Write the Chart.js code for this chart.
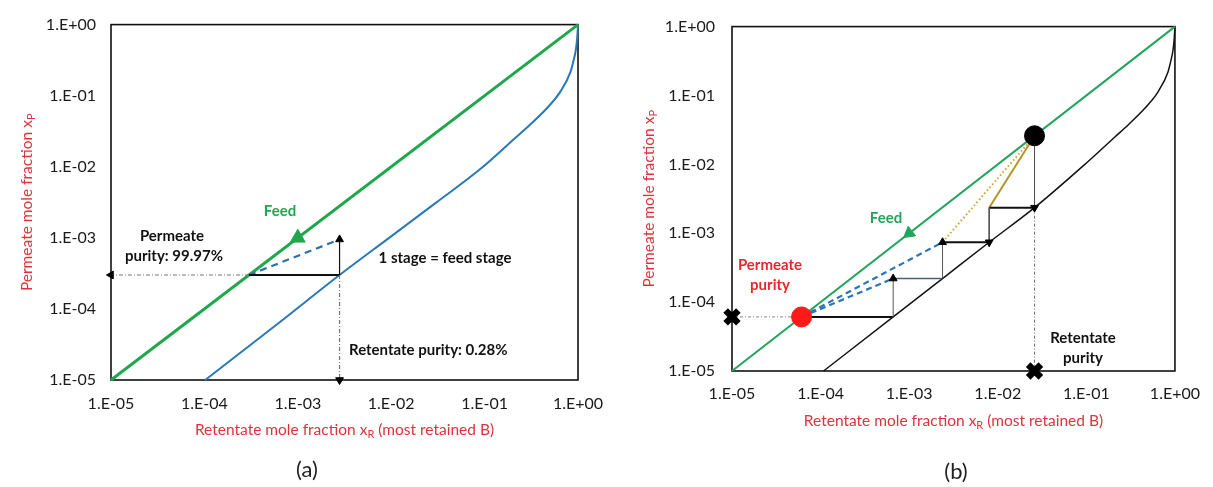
<!DOCTYPE html>
<html>
<head>
<meta charset="utf-8">
<script src="https://cdn.jsdelivr.net/npm/chart.js@4.4.0/dist/chart.umd.min.js"></script>
<style>
  html, body { margin: 0; padding: 0; background: #fff; }
  #wrap { position: relative; width: 1213px; height: 487px; overflow: hidden; background: #fff; }
  #ca { position: absolute; left: 0; top: 0; }
  #cb { position: absolute; left: 640px; top: 0; }
</style>
</head>
<body>
<div id="wrap">
  <canvas id="ca" width="640" height="487" style="width:640px;height:487px"></canvas>
  <canvas id="cb" width="573" height="487" style="width:573px;height:487px"></canvas>
</div>
<script>
// ---- shared axis ticks (log decades) ----
const decadeTicks  = [1e-5, 1e-4, 1e-3, 1e-2, 1e-1, 1];
const decadeLabels = ['1.E-05', '1.E-04', '1.E-03', '1.E-02', '1.E-01', '1.E+00'];
const diagonalX = [1e-5, 1];

// ---- panel (a): single stage ----
const eqA_xR = [1.02e-4, 6.4e-4, 2.8e-3, 9.5e-3, 0.03, 0.092, 0.21, 0.3, 0.5, 0.65, 0.835, 0.9, 0.95, 0.98, 1];
const eqA_xP = [1e-5, 6.5e-5, 3e-4, 1e-3, 3.1e-3, 0.0095, 0.025, 0.038, 0.074, 0.115, 0.22, 0.32, 0.45, 0.65, 1];
const feedA = [1e-3, 1e-3];
const permeatePurityA = 99.97;   // %
const retentatePurityA = 0.28;   // %
const stageTopA = 9.5e-4;        // x_P reached by the dashed operating line

// ---- panel (b): cascade ----
const eqB_xR = [1.08e-4, 6.6e-4, 2.38e-3, 8e-3, 0.026, 0.092, 0.21, 0.3, 0.5, 0.65, 0.835, 0.9, 0.95, 0.98, 1];
const eqB_xP = [1e-5, 6.1e-5, 2.2e-4, 7.4e-4, 2.35e-3, 0.0095, 0.025, 0.038, 0.074, 0.115, 0.22, 0.32, 0.45, 0.65, 1];
const cascadeXR = [6.1e-5, 6.6e-4, 2.38e-3, 8e-3, 0.026];
const cascadeXP = [6.1e-5, 2.2e-4, 7.4e-4, 2.35e-3, 0.026];
const feedB = [1e-3, 1e-3];

const AXIS_MIN = 1e-5, AXIS_MAX = 1;
const FONT = 'Lato, "Open Sans", sans-serif';
const RED = '#dd333c';

Chart.defaults.font.family = FONT;
Chart.defaults.animation = false;

const pts = (xs, ys) => xs.map((x, i) => ({ x, y: ys[i] }));
const P = (x, y) => ({ x, y });

function axisCfg(isX, size, pad) {
  return {
    type: 'logarithmic', min: AXIS_MIN, max: AXIS_MAX,
    grid: { display: false, drawTicks: false },
    border: { display: false },
    afterBuildTicks: s => { s.ticks = decadeTicks.map(v => ({ value: v })); },
    afterFit: s => { if (isX) s.height = size; else s.width = size; },
    ticks: {
      autoSkip: false, maxRotation: 0, padding: pad, color: '#1a1a1a',
      font: { size: 16 },
      callback: (v, i) => decadeLabels[i]
    }
  };
}

function line(data, color, width, extra) {
  return Object.assign({
    type: 'scatter', data, showLine: true, borderColor: color, backgroundColor: color,
    borderWidth: width, pointRadius: 0, clip: false
  }, extra || {});
}
function arrow(from, to, color, width, rotation, extra) {
  return line([from, to], color, width, Object.assign({
    pointStyle: 'triangle', pointRadius: [0, 4.5], rotation: [0, rotation],
    pointBackgroundColor: '#000', pointBorderColor: '#000', pointBorderWidth: 1
  }, extra || {}));
}
function marker(p, style, radius, color, extra) {
  return Object.assign({
    type: 'scatter', data: [p], showLine: false, pointStyle: style, pointRadius: radius,
    backgroundColor: color, borderColor: color, clip: false
  }, extra || {});
}

const framePlugin = {
  id: 'frame',
  beforeDatasetsDraw(chart) {
    const a = chart.chartArea, ctx = chart.ctx;
    ctx.save();
    ctx.strokeStyle = '#111';
    ctx.lineWidth = 1.6;
    ctx.strokeRect(a.left, a.top, a.right - a.left, a.bottom - a.top);
    ctx.restore();
  }
};

function richText(ctx, parts, cx, cy, size, color, angle) {
  ctx.save();
  ctx.translate(cx, cy);
  ctx.rotate(angle || 0);
  ctx.fillStyle = color;
  ctx.textBaseline = 'middle';
  ctx.textAlign = 'left';
  const fonts = parts.map(p => `${p.sub ? Math.round(size * 0.68) : size}px ${FONT}`);
  let total = 0;
  const widths = parts.map((p, i) => { ctx.font = fonts[i]; const w = ctx.measureText(p.t).width; total += w; return w; });
  let x = -total / 2;
  parts.forEach((p, i) => { ctx.font = fonts[i]; ctx.fillText(p.t, x, p.sub ? size * 0.3 : 0); x += widths[i]; });
  ctx.restore();
}
function label(ctx, text, x, y, size, color, bold, align) {
  ctx.save();
  ctx.font = `${bold ? 'bold ' : ''}${size}px ${FONT}`;
  ctx.fillStyle = color;
  ctx.textAlign = align || 'center';
  ctx.textBaseline = 'middle';
  ctx.fillText(text, x, y);
  ctx.restore();
}
function axisTitles(ctx, a, yTitleX, xTitleY) {
  richText(ctx, [{ t: 'Retentate mole fraction x' }, { t: 'R', sub: true }, { t: ' (most retained B)' }],
           (a.left + a.right) / 2, xTitleY, 15.5, RED, 0);
  richText(ctx, [{ t: 'Permeate mole fraction x' }, { t: 'P', sub: true }],
           yTitleX, (a.top + a.bottom) / 2, 15.5, RED, -Math.PI / 2);
}

// ---------------- panel (a) ----------------
const xPa = 1 - permeatePurityA / 100;
const xRa = retentatePurityA / 100;
const GREEN_A = '#1fa74b';

new Chart(document.getElementById('ca'), {
  type: 'scatter',
  data: {
    datasets: [
      marker(P(feedA[0], feedA[1]), 'triangle', 8.5, GREEN_A),
      arrow(P(xRa, xPa), P(xRa, stageTopA), '#111', 1.2, 0),
      arrow(P(xRa, xPa), P(xRa, AXIS_MIN), '#777', 1.2, 180, { borderDash: [4, 2, 1, 2] }),
      arrow(P(xPa, xPa), P(AXIS_MIN, xPa), '#777', 1.2, 270, { borderDash: [4, 2, 1, 2] }),
      line([P(xPa, xPa), P(xRa, xPa)], '#111', 2.2),
      line([P(xPa, xPa), P(xRa, stageTopA)], '#2e6fae', 2.2, { borderDash: [7, 5] }),
      line(pts(diagonalX, diagonalX), GREEN_A, 3),
      line(pts(eqA_xR, eqA_xP), '#2a79b7', 2, { cubicInterpolationMode: 'monotone' })
    ]
  },
  options: {
    responsive: false, animation: false, events: [],
    layout: { padding: { left: 0, top: 17, right: 62, bottom: 0 } },
    plugins: { legend: { display: false }, tooltip: { enabled: false } },
    scales: { x: axisCfg(true, 107, 14), y: axisCfg(false, 111, 15) }
  },
  plugins: [framePlugin, {
    id: 'textA',
    afterDraw(chart) {
      const ctx = chart.ctx, a = chart.chartArea;
      axisTitles(ctx, a, 27, 430);
      label(ctx, 'Feed', 280, 211, 15, GREEN_A, true);
      label(ctx, 'Permeate', 172, 236, 15, '#111', true);
      label(ctx, 'purity: 99.97%', 174, 256, 15, '#111', true);
      label(ctx, '1 stage = feed stage', 445, 258, 15, '#111', true);
      label(ctx, 'Retentate purity: 0.28%', 349, 350, 15, '#111', true, 'left');
      label(ctx, '(a)', 307, 470, 22, '#222', false);
    }
  }]
});

// ---------------- panel (b) ----------------
const GREEN_B = '#22a55c';
const c = cascadeXR, p = cascadeXP;
const GOLD = '#b8922c';

new Chart(document.getElementById('cb'), {
  type: 'scatter',
  data: {
    datasets: [
      marker(P(p[0], p[0]), 'circle', 10, '#ff1a1a'),
      marker(P(c[4], p[4]), 'circle', 10, '#000'),
      marker(P(AXIS_MIN, p[0]), 'crossRot', 9, '#000', { borderWidth: 6.5 }),
      marker(P(c[4], AXIS_MIN), 'crossRot', 9, '#000', { borderWidth: 6.5 }),
      marker(P(feedB[0], feedB[1]), 'triangle', 7, GREEN_B, { rotation: 232 }),
      // stage steps
      arrow(P(c[1], p[0]), P(c[1], p[1]), '#555', 1, 0),
      arrow(P(c[2], p[1]), P(c[2], p[2]), '#555', 1, 0),
      arrow(P(c[3], p[3]), P(c[3], p[2]), '#555', 1, 180),
      arrow(P(c[4], p[4]), P(c[4], p[3]), '#555', 1, 180),
      line([P(p[0], p[0]), P(c[1], p[0])], '#111', 2),
      line([P(c[1], p[1]), P(c[2], p[1])], '#44627e', 1.6),
      line([P(c[2], p[2]), P(c[3], p[2])], '#111', 2),
      line([P(c[3], p[3]), P(c[4], p[3])], '#111', 2),
      // purity projections
      line([P(c[4], p[3]), P(c[4], AXIS_MIN)], '#777', 1, { borderDash: [3, 2, 1, 2] }),
      line([P(AXIS_MIN, p[0]), P(p[0], p[0])], '#888', 1, { borderDash: [3, 2, 1, 2] }),
      // operating lines
      line([P(c[3], p[3]), P(c[4], p[4])], GOLD, 2),
      line([P(c[2], p[2]), P(c[4], p[4])], '#c9a53a', 2, { borderDash: [1.5, 2.5] }),
      line([P(p[0], p[0]), P(c[1], p[1])], '#2e75b6', 2.2, { borderDash: [6, 4] }),
      line([P(p[0], p[0]), P(c[2], p[2])], '#2e75b6', 2.2, { borderDash: [6, 4] }),
      line(pts(diagonalX, diagonalX), GREEN_B, 2),
      line(pts(eqB_xR, eqB_xP), '#111', 1.5, { cubicInterpolationMode: 'monotone' })
    ]
  },
  options: {
    responsive: false, animation: false, events: [],
    layout: { padding: { left: 0, top: 21, right: 33, bottom: 0 } },
    plugins: { legend: { display: false }, tooltip: { enabled: false } },
    scales: { x: axisCfg(true, 116, 13), y: axisCfg(false, 92, 17) }
  },
  plugins: [framePlugin, {
    id: 'textB',
    afterDraw(chart) {
      const ctx = chart.ctx, a = chart.chartArea;
      axisTitles(ctx, a, 9, 421);
      label(ctx, 'Feed', 246, 218, 15, GREEN_B, true);
      label(ctx, 'Permeate', 130, 265, 15, '#e8262b', true);
      label(ctx, 'purity', 130, 285, 15, '#e8262b', true);
      label(ctx, 'Retentate', 443, 338, 15, '#111', true);
      label(ctx, 'purity', 443, 358, 15, '#111', true);
      label(ctx, '(b)', 316, 472, 22, '#222', false);
    }
  }]
});
</script>
</body>
</html>
